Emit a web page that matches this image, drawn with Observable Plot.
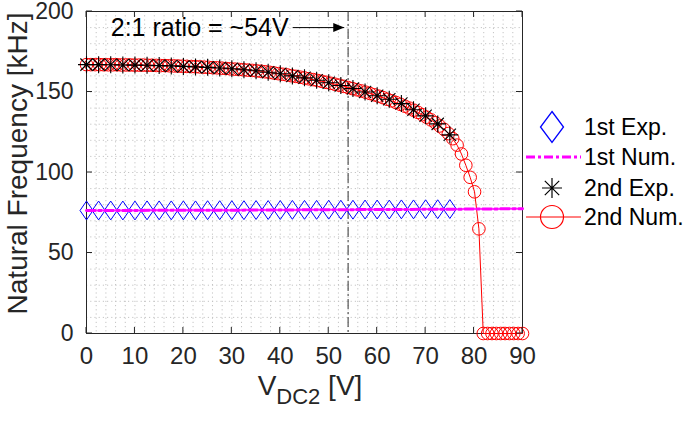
<!DOCTYPE html>
<html><head><meta charset="utf-8">
<script src="https://cdn.jsdelivr.net/npm/d3@7"></script>
<script src="https://cdn.jsdelivr.net/npm/@observablehq/plot@0.6"></script>
<style>body{margin:0;background:#fff} #chart{width:685px;height:421px;position:relative}</style>
</head><body><div id="chart"></div>
<script>
// ---- data ----
const numV = [0,0.9,1.8,2.7,3.6,4.5,5.4,6.3,7.2,8.1,9,9.9,10.8,11.7,12.6,13.5,14.4,15.3,16.2,17.1,18,18.9,19.8,20.7,21.6,22.5,23.4,24.3,25.2,26.1,27,27.9,28.8,29.7,30.6,31.5,32.4,33.3,34.2,35.1,36,36.9,37.8,38.7,39.6,40.5,41.4,42.3,43.2,44.1,45,45.9,46.8,47.7,48.6,49.5,50.4,51.3,52.2,53.1,54,54.9,55.8,56.7,57.6,58.5,59.4,60.3,61.2,62.1,63,63.9,64.8,65.7,66.6,67.5,68.4,69.3,70.2,71.1,72,72.9,73.8,74.7,75.6,76.5,77.4,78.3,79.2,80.1,81,81.9,82.8,83.7,84.6,85.5,86.4,87.3,88.2,89.1,90];
const num2F = [167.0,167.0,167.0,167.0,166.9,166.9,166.9,166.9,166.8,166.8,166.8,
  166.7,166.7,166.7,166.6,166.6,166.5,166.4,166.4,166.3,166.2,
  166.1,166.0,165.9,165.8,165.7,165.6,165.4,165.3,165.1,165.0,
  164.8,164.6,164.4,164.2,164.0,163.8,163.6,163.4,163.1,162.9,
  162.55,162.2,161.8,161.4,161.0,160.6,160.15,159.7,159.2,158.7,
  158.2,157.7,157.15,156.6,156.0,155.4,154.8,154.2,153.5,152.8,
  152.1,151.4,150.65,149.9,149.1,148.25,147.4,146.5,145.5,144.5,
  143.45,142.35,141.2,140.0,138.7,137.35,135.9,134.35,132.7,130.9,
  128.9,126.8,124.2,121.0,117.0,111.5,104.5,97.0,88.0,65.0,
  0,0,0,0,0,0,0,0,0,0];
const expV = [0,2.5,5,7.5,10,12.5,15,17.5,20,22.5,25,27.5,30,32.5,35,37.5,40,42.5,45,47.5,50,52.5,55,57.5,60,62.5,65,67.5,70,72.5,75];
const exp2F = [167.0,167.0,166.9,166.8,166.7,166.6,166.4,166.2,165.9,165.6,165.3,164.9,164.4,163.8,163.2,162.3,161.3,160.0,158.8,157.3,155.7,154.0,152.2,150.0,147.7,145.5,142.8,139.0,135.2,130.2,123.4];
const exp1F = [76.4,76.4,76.4,76.4,76.4,76.5,76.5,76.5,76.5,76.5,76.6,76.6,76.6,76.6,76.7,76.7,76.7,76.8,76.8,76.8,76.9,76.9,76.9,77.0,77.0,77.0,77.1,77.1,77.2,77.2,77.3];
const num1V = [0,15,30,45,60,75,90];
const num1F = [76.4,76.5,76.6,76.8,77.0,77.2,77.5];
const seriesNames = ["1st Exp.","1st Num.","2nd Exp.","2nd Num."];
const xTicks = [0,10,20,30,40,50,60,70,80,90];
const yTicks = [0,50,100,150,200];
const ratioV = [54];
const noteText = ["2:1 ratio = ~54V"];
const noteX = [5], noteY = [190];
const arrowX1 = [42.6], arrowX2 = [53.2], arrowY = [190];

const num2 = numV.map((v,i)=>({v, f:num2F[i]}));
const exp2 = expV.map((v,i)=>({v, f:exp2F[i]}));
const exp1 = expV.map((v,i)=>({v, f:exp1F[i]}));
const num1 = num1V.map((v,i)=>({v, f:num1F[i]}));
const note = noteText.map((t,i)=>({t, x:noteX[i], y:noteY[i]}));
const arrow = arrowX1.map((x1,i)=>({x1, x2:arrowX2[i], y:arrowY[i]}));

// ---- custom symbols ----
const diamondSym = {draw(ctx,size){const r=Math.sqrt(size/Math.PI);const h=r*1.45;ctx.moveTo(0,-h);ctx.lineTo(r,0);ctx.lineTo(0,h);ctx.lineTo(-r,0);ctx.closePath();}};
const asteriskSym = {draw(ctx,size){const r=Math.sqrt(size/Math.PI);const d=r*0.72;ctx.moveTo(0,-r);ctx.lineTo(0,r);ctx.moveTo(-r,0);ctx.lineTo(r,0);ctx.moveTo(-d,-d);ctx.lineTo(d,d);ctx.moveTo(-d,d);ctx.lineTo(d,-d);}};
const headSym = {draw(ctx,size){ctx.moveTo(0,0);ctx.lineTo(-11,-4.5);ctx.lineTo(-11,4.5);ctx.closePath();}};

const FONT = "'Liberation Sans', Arial, Helvetica, sans-serif";
const AX = "#262626";

const plot = Plot.plot({
  width: 685, height: 421,
  marginLeft: 86, marginRight: 163, marginTop: 11, marginBottom: 88,
  x: {domain: [0, 90]},
  y: {domain: [0, 200]},
  style: {fontFamily: FONT, color: AX, background: "white", overflow: "visible"},
  marks: [
    Plot.gridX(d3.range(0, 91, 2), {stroke: "#c4c4c4", strokeOpacity: 1, strokeDasharray: "1.2,3"}),
    Plot.gridY(d3.range(0, 201, 10), {stroke: "#c4c4c4", strokeOpacity: 1, strokeDasharray: "1.2,3"}),
    Plot.frame({stroke: AX, strokeWidth: 1}),
    Plot.axisX(xTicks, {anchor: "bottom", tickSize: 0, tickPadding: 13, fontSize: 24, label: null}),
    Plot.axisY(yTicks, {anchor: "left", tickSize: 0, tickPadding: 13, fontSize: 23, label: null}),
    Plot.ruleX(ratioV, {stroke: "#333", strokeWidth: 1, strokeDasharray: "10,3,2,3"}),
    Plot.line(num2, {x: "v", y: "f", stroke: "#ff0000", strokeWidth: 1}),
    Plot.dot(num2, {x: "v", y: "f", r: 6.3, stroke: "#ff0000", fill: "none", strokeWidth: 1}),
    Plot.dot(exp2, {x: "v", y: "f", r: 8.5, symbol: asteriskSym, stroke: "black", fill: "none", strokeWidth: 1.1}),
    Plot.dot(exp1, {x: "v", y: "f", r: 6.5, symbol: diamondSym, stroke: "#0000ff", fill: "none", strokeWidth: 1}),
    Plot.line(num1, {x: "v", y: "f", stroke: "#ff00ff", strokeWidth: 3, strokeDasharray: "9,3,3,3"}),
    Plot.text(note, {x: "x", y: "y", text: "t", textAnchor: "start", fontSize: 25, fill: "black"}),
    Plot.link(arrow, {x1: "x1", x2: "x2", y1: "y", y2: "y", stroke: "black", strokeWidth: 1}),
    Plot.dot(arrow, {x: "x2", y: "y", symbol: headSym, r: 5, fill: "black", stroke: "none"}),
    Plot.text(["Natural Frequency [kHz]"], {frameAnchor: "left", textAnchor: "middle", rotate: -90, dx: -68, dy: -9, fontSize: 28, fill: AX})
  ]
});
document.getElementById("chart").appendChild(plot);

const svg = d3.select(plot);
const xs = plot.scale("x"), ys = plot.scale("y");
const [yb, yt] = ys.range; const [xl0, xr0] = xs.range;
// inward ticks on all four sides (positions from the plot's scales)
const tk = svg.append("g").attr("stroke", AX).attr("stroke-width", 1);
xTicks.forEach(t => {
  const px = xs.apply(t);
  tk.append("line").attr("x1", px).attr("x2", px).attr("y1", yb).attr("y2", yb - 6);
  tk.append("line").attr("x1", px).attr("x2", px).attr("y1", yt).attr("y2", yt + 6);
});
yTicks.forEach(t => {
  const py = ys.apply(t);
  tk.append("line").attr("x1", xl0).attr("x2", xl0 + 6).attr("y1", py).attr("y2", py);
  tk.append("line").attr("x1", xr0).attr("x2", xr0 - 6).attr("y1", py).attr("y2", py);
});

// x label with subscript
const xl = svg.append("text").attr("x", 310).attr("y", 395).attr("text-anchor", "middle")
  .attr("font-family", FONT).attr("font-size", 28).attr("fill", AX);
xl.append("tspan").text("V");
xl.append("tspan").attr("dy", 9).attr("font-size", 22).text("DC2");
xl.append("tspan").attr("dy", -9).text(" [V]");

// legend
const lg = svg.append("g").attr("font-family", FONT).attr("font-size", 23).attr("fill", "black").attr("text-anchor", "start");
const rows = [127, 157, 188, 217];
const sx = 552;
lg.append("path").attr("d", `M${sx},${rows[0]-15.5}L${sx+11.5},${rows[0]}L${sx},${rows[0]+15.5}L${sx-11.5},${rows[0]}Z`).attr("fill","none").attr("stroke","#0000ff").attr("stroke-width",1.3);
lg.append("line").attr("x1", 526).attr("x2", 581).attr("y1", rows[1]).attr("y2", rows[1]).attr("stroke","#ff00ff").attr("stroke-width",3).attr("stroke-dasharray","9,3,3,3");
const a = 10, d = 7.2;
lg.append("path").attr("d", `M${sx},${rows[2]-a}V${rows[2]+a}M${sx-a},${rows[2]}H${sx+a}M${sx-d},${rows[2]-d}L${sx+d},${rows[2]+d}M${sx-d},${rows[2]+d}L${sx+d},${rows[2]-d}`).attr("stroke","black").attr("stroke-width",1.2).attr("fill","none");
lg.append("line").attr("x1", 526).attr("x2", 581).attr("y1", rows[3]).attr("y2", rows[3]).attr("stroke","#ff0000").attr("stroke-width",1);
lg.append("circle").attr("cx", sx).attr("cy", rows[3]).attr("r", 11.5).attr("fill","none").attr("stroke","#ff0000").attr("stroke-width",1.2);
seriesNames.forEach((n,i) => {
  lg.append("text").attr("x", 584).attr("y", rows[i]).attr("dy", "0.36em").text(n);
});
</script></body></html>
